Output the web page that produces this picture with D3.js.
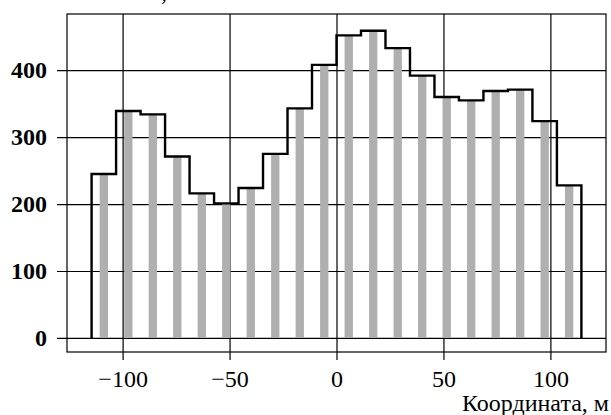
<!doctype html>
<html>
<head>
<meta charset="utf-8">
<title>Координата</title>
<script src="https://cdn.jsdelivr.net/npm/d3@7"></script>
<style>
  body { margin: 0; background: #fff; }
</style>
</head>
<body>
<div id="chart"></div>
<script>
// bins: 20 equal bins, edges symmetric around zero
const binStart = -114.5
const binWidth = 11.45
const counts = [245, 339, 334, 271, 216, 201, 224, 275, 343, 408,
                452, 459, 433, 392, 360, 355, 369, 371, 324, 228]
const xTicks = [-100, -50, 0, 50, 100]
const yTicks = [0, 100, 200, 300, 400]
const xLabel = "Координата, м"
const yLabel = "Количество, шт"

const FONT = "Liberation Serif"
const W = 611, H = 415
const margin = {top: 14, right: 5, bottom: 63, left: 67}
const plotW = W - margin.left - margin.right
const plotH = H - margin.top - margin.bottom

const svg = d3.select("#chart").append("svg")
  .attr("width", W)
  .attr("height", H)

const g = svg.append("g")
  .attr("transform", `translate(${margin.left},${margin.top})`)

const x = d3.scaleLinear().domain([-126, 126]).range([0, plotW])
const y = d3.scaleLinear().domain([-21, 484]).range([plotH, 0])

const bins = counts.map((c, i) => ({
  x0: binStart + i * binWidth,
  x1: binStart + (i + 1) * binWidth,
  n: c
}))

// grid + ticks
const xAxis = g.append("g")
  .attr("transform", `translate(0,${plotH})`)
  .call(d3.axisBottom(x).tickValues(xTicks).tickSize(-plotH).tickPadding(18))
xAxis.attr("font-family", null).attr("font-size", null)
xAxis.select(".domain").remove()
xAxis.selectAll(".tick line").attr("y1", 8).attr("stroke", "#000").attr("stroke-width", 1.2)
xAxis.selectAll(".tick text")
  .attr("fill", "#000")
  .style("font-family", FONT)
  .style("font-size", "24px")

const yAxis = g.append("g")
  .call(d3.axisLeft(y).tickValues(yTicks).tickSize(-plotW).tickPadding(20))
yAxis.attr("font-family", null).attr("font-size", null)
yAxis.select(".domain").remove()
yAxis.selectAll(".tick line").attr("x1", -10).attr("stroke", "#000").attr("stroke-width", 1.2)
yAxis.selectAll(".tick text")
  .attr("fill", "#000")
  .style("font-family", FONT)
  .style("font-size", "24px")
  .style("font-weight", "bold")

// frame
g.append("rect")
  .attr("width", plotW)
  .attr("height", plotH)
  .attr("fill", "none")
  .attr("stroke", "#000")
  .attr("stroke-width", 1.2)

// grey bars at bin centres
const bw = (x(binWidth) - x(0)) * 0.34
g.selectAll(".bar").data(bins).enter().append("rect")
  .attr("class", "bar")
  .attr("x", d => x((d.x0 + d.x1) / 2) - bw / 2)
  .attr("y", d => y(d.n))
  .attr("width", bw)
  .attr("height", d => y(0) - y(d.n))
  .attr("fill", "#afafaf")

// step outline
const pts = [[bins[0].x0, 0]]
bins.forEach(d => { pts.push([d.x0, d.n]); pts.push([d.x1, d.n]) })
pts.push([bins[bins.length - 1].x1, 0])

g.append("path")
  .datum(pts)
  .attr("fill", "none")
  .attr("stroke", "#000")
  .attr("stroke-width", 2.4)
  .attr("stroke-linejoin", "miter")
  .attr("d", d3.line().x(d => x(d[0])).y(d => y(d[1])))

// axis labels
svg.append("text")
  .attr("x", 609)
  .attr("y", 411)
  .attr("text-anchor", "end")
  .style("font-family", FONT)
  .style("font-size", "24px")
  .text(xLabel)

svg.append("text")
  .attr("x", 202)
  .attr("y", 0)
  .attr("text-anchor", "end")
  .style("font-family", FONT)
  .style("font-size", "24px")
  .text(yLabel)
</script>
</body>
</html>
